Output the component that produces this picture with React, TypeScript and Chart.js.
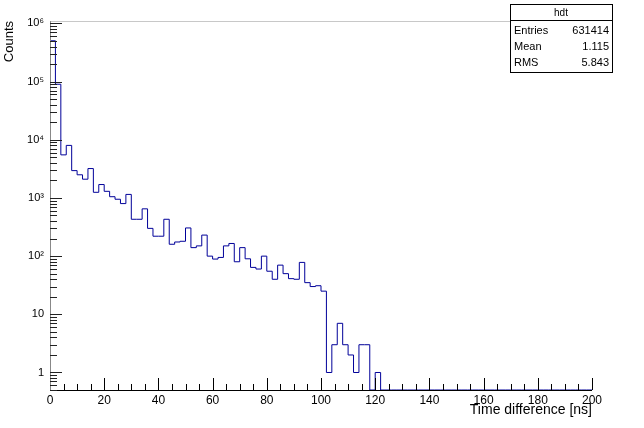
import React, { useEffect, useRef } from "react";
import { Chart, registerables } from "chart.js";

Chart.register(...registerables);

// ---- data ----
const X_MIN = 0;
const X_MAX = 200;
const BIN_WIDTH = 2; // ns per bin
const COUNTS: number[] = [
  503000, 90000, 5500, 8000, 2950, 2500, 2100, 3200, 1250, 1700,
  1300, 1050, 950, 800, 1150, 430, 430, 650, 300, 220,
  220, 430, 160, 175, 180, 305, 140, 150, 230, 100,
  89, 95, 150, 165, 80, 140, 90, 64, 60, 100,
  55, 40, 70, 50, 41, 40, 78, 35, 30, 31,
  25, 1, 3, 7, 3, 2, 1, 3, 3, 0,
  1, 0, 0, 0, 0, 0, 0, 0, 0, 0,
  0, 0, 0, 0, 0, 0, 0, 0, 0, 0,
  0, 0, 0, 0, 0, 0, 0, 0, 0, 0,
  0, 0, 0, 0, 0, 0, 0, 0, 0, 0,
];
const Y_MIN = 0.5;
const Y_MAX = 1.1e6;
const X_MAJOR_STEP = 20;
const X_MINOR_STEP = 5;
const Y_TICKS = [1, 10, 100, 1000, 10000, 100000, 1000000];
const Y_TICK_LABELS = ["1", "10", "10\u00B2", "10\u00B3", "10\u2074", "10\u2075", "10\u2076"];
const X_TITLE = "Time difference [ns]";
const Y_TITLE = "Counts";
const STATS_NAME = "hdt";
const STATS_LABELS = ["Entries", "Mean", "RMS"];
const STATS_VALUES = ["631414", "1.115", "5.843"];

const FONT = '"Liberation Sans", Arial, Helvetica, sans-serif';

const rootStylePlugin = {
  id: "rootStyle",
  afterDatasetsDraw(chart: any) {
    const { ctx, chartArea } = chart;
    const { left, right, top, bottom } = chartArea;
    const xs = chart.scales.x;
    const ys = chart.scales.y;
    ctx.save();
    ctx.lineWidth = 1;

    // frame top line
    ctx.strokeStyle = "#c8c8c8";
    ctx.beginPath();
    ctx.moveTo(left, top + 0.5);
    ctx.lineTo(right, top + 0.5);
    ctx.stroke();

    // x axis + inward ticks
    ctx.strokeStyle = "#000";
    ctx.beginPath();
    ctx.moveTo(left, bottom + 0.5);
    ctx.lineTo(right, bottom + 0.5);
    for (let v = X_MIN; v <= X_MAX + 1e-9; v += X_MINOR_STEP) {
      const px = Math.round(xs.getPixelForValue(v)) + 0.5;
      const major = Math.abs(v % X_MAJOR_STEP) < 1e-9;
      ctx.moveTo(px, bottom);
      ctx.lineTo(px, bottom - (major ? 12 : 6));
    }
    ctx.stroke();

    // y axis line
    ctx.strokeStyle = "#888";
    ctx.beginPath();
    ctx.moveTo(left + 0.5, top);
    ctx.lineTo(left + 0.5, bottom);
    ctx.stroke();

    // y log ticks
    ctx.strokeStyle = "#222";
    ctx.beginPath();
    for (let e = -1; e <= 6; e++) {
      for (let m = 1; m <= 9; m++) {
        const v = m * Math.pow(10, e);
        if (v < Y_MIN - 1e-9 || v > Y_MAX) continue;
        const py = Math.round(ys.getPixelForValue(v)) + 0.5;
        ctx.moveTo(left, py);
        ctx.lineTo(left + (m === 1 ? 12 : 7), py);
      }
    }
    ctx.stroke();
    ctx.restore();
  },
  afterDraw(chart: any) {
    const { ctx } = chart;
    const bw = 102;
    const bh = 68;
    const bx = chart.width - 134;
    const by = 4;
    ctx.save();
    ctx.fillStyle = "#fff";
    ctx.fillRect(bx, by, bw, bh);
    ctx.strokeStyle = "#000";
    ctx.lineWidth = 1;
    ctx.strokeRect(bx + 0.5, by + 0.5, bw, bh);
    ctx.beginPath();
    ctx.moveTo(bx, by + 16.5);
    ctx.lineTo(bx + bw, by + 16.5);
    ctx.stroke();
    ctx.fillStyle = "#000";
    ctx.font = `10px ${FONT}`;
    ctx.textBaseline = "middle";
    ctx.textAlign = "center";
    ctx.fillText(STATS_NAME, bx + bw / 2, by + 9);
    ctx.font = `11px ${FONT}`;
    STATS_LABELS.forEach((lab, i) => {
      const ty = by + 27 + i * 16;
      ctx.textAlign = "left";
      ctx.fillText(lab, bx + 4, ty);
      ctx.textAlign = "right";
      ctx.fillText(STATS_VALUES[i], bx + bw - 3, ty);
    });
    ctx.restore();
  },
};

export default function App() {
  const ref = useRef<HTMLCanvasElement>(null);
  useEffect(() => {
    document.body.style.margin = "0";
    const points = [
      { x: X_MIN, y: Y_MIN },
      ...COUNTS.map((c, i) => ({ x: X_MIN + i * BIN_WIDTH, y: c > 0 ? c : Y_MIN })),
      { x: X_MAX, y: Y_MIN },
    ];
    const chart = new Chart(ref.current as HTMLCanvasElement, {
      type: "line",
      data: {
        datasets: [
          {
            data: points,
            borderColor: "#000099",
            borderWidth: 1,
            pointRadius: 0,
            fill: false,
            stepped: "before",
            tension: 0,
          },
        ],
      },
      options: {
        animation: false,
        responsive: false,
        devicePixelRatio: 1,
        layout: { padding: { left: 0, right: 52, top: 21, bottom: 0 } },
        plugins: { legend: { display: false }, tooltip: { enabled: false } },
        scales: {
          x: {
            type: "linear",
            min: X_MIN,
            max: X_MAX,
            grid: { display: false, drawTicks: false },
            border: { display: false },
            ticks: {
              stepSize: X_MAJOR_STEP,
              autoSkip: false,
              maxRotation: 0,
              padding: 3,
              color: "#000",
              font: { family: FONT, size: 12 },
            },
            title: {
              display: true,
              text: X_TITLE,
              align: "end",
              color: "#000",
              font: { family: FONT, size: 14 },
              padding: { top: 0, bottom: 9 },
            },
            afterFit: (s: any) => {
              s.height = 38;
            },
          },
          y: {
            type: "logarithmic",
            min: Y_MIN,
            max: Y_MAX,
            grid: { display: false, drawTicks: false },
            border: { display: false },
            afterBuildTicks: (s: any) => {
              s.ticks = Y_TICKS.map((v) => ({ value: v }));
            },
            ticks: {
              autoSkip: false,
              padding: 6,
              color: "#000",
              font: { family: FONT, size: 11 },
              callback: (v: any) => {
                const idx = Y_TICKS.indexOf(Number(v));
                return idx >= 0 ? Y_TICK_LABELS[idx] : "";
              },
            },
            title: {
              display: true,
              text: Y_TITLE,
              align: "end",
              color: "#000",
              font: { family: FONT, size: 13 },
              padding: { top: 2, bottom: 0 },
            },
            afterFit: (s: any) => {
              s.width = 50;
            },
          },
        },
      },
      plugins: [rootStylePlugin],
    } as any);
    return () => chart.destroy();
  }, []);
  return (
    <div style={{ width: 644, height: 428 }}>
      <canvas ref={ref} width={644} height={428} />
    </div>
  );
}
